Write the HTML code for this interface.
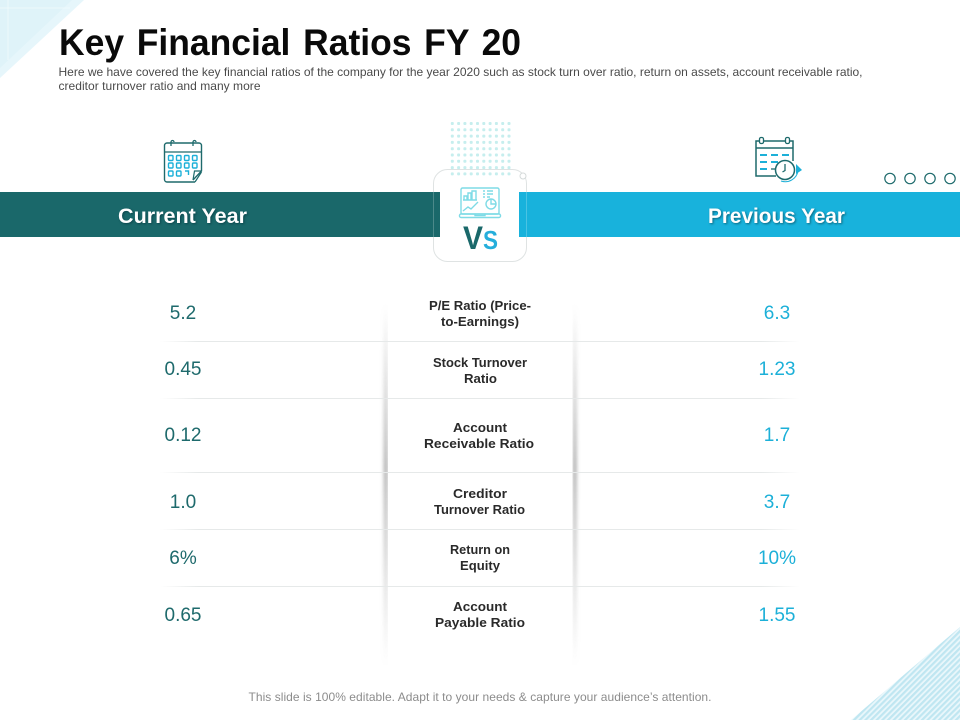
<!DOCTYPE html>
<html lang="en">
<head>
<meta charset="utf-8">
<title>Key Financial Ratios FY 20</title>
<style>
html,body{margin:0;padding:0;background:#fff;width:960px;height:720px;overflow:hidden}
svg{display:block}
text{font-family:"Liberation Sans",sans-serif}
.lbl{font-size:12.5px;font-weight:700;fill:#2a2a2a;text-anchor:start}
.v{font-size:19px;text-anchor:middle}
.cur{fill:#1e6a6c}
.prev{fill:#1cb0d8}
.hd{font-size:21px;font-weight:700;fill:#fff;filter:drop-shadow(1px 1px 1px rgba(0,40,50,.55))}
</style>
</head>
<body>
<svg width="960" height="720" viewBox="0 0 960 720" xmlns="http://www.w3.org/2000/svg">
<defs>
<pattern id="hatch" width="4" height="4" patternUnits="userSpaceOnUse" patternTransform="rotate(-45)">
<rect width="4" height="4" fill="#eaf7fb"/>
<rect width="4" height="2.2" fill="#bfe6f1"/>
</pattern>
<linearGradient id="sh" x1="0" y1="0" x2="0" y2="1">
<stop offset="0" stop-color="#999" stop-opacity="0"/>
<stop offset=".45" stop-color="#888" stop-opacity=".6"/>
<stop offset="1" stop-color="#999" stop-opacity="0"/>
</linearGradient>
<linearGradient id="ru" x1="0" y1="0" x2="1" y2="0">
<stop offset="0" stop-color="#e6e9e9" stop-opacity="0"/>
<stop offset=".06" stop-color="#e6e9e9"/>
<stop offset=".94" stop-color="#e6e9e9"/>
<stop offset="1" stop-color="#e6e9e9" stop-opacity="0"/>
</linearGradient>
<filter id="bl" x="-300%" y="-5%" width="700%" height="110%"><feGaussianBlur stdDeviation="1.8"/></filter>
</defs>

<g>
<polygon points="0,0 84,0 0,78" fill="#e6f6fb"/>
<polygon points="0,0 72,0 0,68" fill="#dff3f9"/>
<path d="M8,0V60M0,8H70" stroke="#eef9fc" stroke-width="1"/>
</g>
<polygon points="960,627 960,720 851,720" fill="url(#hatch)"/>

<text x="59" y="55" font-size="37" font-weight="700" fill="#0a0a0a" textLength="462" lengthAdjust="spacingAndGlyphs" style="word-spacing:3px">Key Financial Ratios FY 20</text>
<g font-size="12" fill="#4a4a4a">
<text x="58.5" y="76" textLength="804" lengthAdjust="spacing">Here we have covered the key financial ratios of the company for the year 2020 such as stock turn over ratio, return on assets, account receivable ratio,</text>
<text x="58.5" y="90" textLength="202" lengthAdjust="spacing">creditor turnover ratio and many more</text>
</g>

<g>
<rect x="433.5" y="169.5" width="93" height="92" rx="14" fill="#fff" stroke="#dfe3e3" stroke-width="1"/>
<circle cx="523" cy="176" r="3" fill="#fff" stroke="#d5dada"/>
</g>

<g fill="#c6eeee">
<g id="dots"></g>
</g>

<rect x="0" y="192" width="440" height="45" fill="#1a686a"/>
<rect x="519" y="192" width="441" height="45" fill="#18b2dc"/>
<path d="M433.5,192V237M526.5,192V237" stroke="#fff" stroke-opacity=".22"/>
<text class="hd" x="118" y="223" textLength="129" lengthAdjust="spacingAndGlyphs">Current Year</text>
<text class="hd" x="708" y="223" textLength="137" lengthAdjust="spacingAndGlyphs">Previous Year</text>

<g fill="none" stroke="#7fdbe6" stroke-width="1.4">
<rect x="461" y="188" width="38" height="26" rx="1.5"/>
<rect x="459.5" y="214" width="41" height="3.5" rx="1.5"/>
<path d="M475,214v1.5h10v-1.5"/>
<path d="M464,200v-4h3v4M468,200v-7h3v7M472,200v-9h4v9M463,200h14"/>
<path d="M463,211l5,-4l3,2l7,-7"/>
<circle cx="491" cy="204" r="5"/>
<path d="M491,199v5h5"/>
<path d="M483,191h2M487,191h6M483,194h2M487,194h6M483,197h2M487,197h3"/>
</g>
<text x="463" y="249" font-size="32" font-weight="700" fill="#1a686a" textLength="20" lengthAdjust="spacingAndGlyphs">V</text>
<text x="483" y="249" font-size="26" font-weight="700" fill="#25aedb" textLength="15" lengthAdjust="spacingAndGlyphs">S</text>

<g fill="none">
<path d="M195,182H167a2.5,2.5 0 0 1 -2.5,-2.5V145.500a2.500,2.500 0 0 1 2.500,-2.500H199a2.500,2.500 0 0 1 2.500,2.500V171L193,180" stroke="#1e6a6c" stroke-width="1.400"/>
<path d="M164.500,152H201.500" stroke="#1e6a6c" stroke-width="1.200"/>
<path d="M171,146v-4a1.500,1.500 0 0 1 3,0M193,146v-4a1.500,1.500 0 0 1 3,0" stroke="#1e6a6c" stroke-width="1.300"/>
<path d="M201.500,171H194.500L193,180M195,182L201.500,172" stroke="#1e6a6c" stroke-width="1.200"/>
<g stroke="#1cb0d8" stroke-width="1.400">
<rect x="168.500" y="155.500" width="4.500" height="5" rx="1"/><rect x="176.500" y="155.500" width="4.500" height="5" rx="1"/><rect x="184.500" y="155.500" width="4.500" height="5" rx="1"/><rect x="192.500" y="155.500" width="4.500" height="5" rx="1"/>
<rect x="168.500" y="163" width="4.500" height="5" rx="1"/><rect x="176.500" y="163" width="4.500" height="5" rx="1"/><rect x="184.500" y="163" width="4.500" height="5" rx="1"/><rect x="192.500" y="163" width="4.500" height="5" rx="1"/>
<rect x="168.500" y="171" width="4.500" height="5" rx="1"/><rect x="176.500" y="171" width="4.500" height="5" rx="1"/><path d="M185,171h3.500v4"/>
</g>
</g>

<g fill="none">
<path d="M776,176H756V141H793V161" stroke="#1e6a6c" stroke-width="1.500"/>
<path d="M756,148H793" stroke="#1e6a6c" stroke-width="1.500"/>
<rect x="759.500" y="137.500" width="4" height="6" rx="1.500" fill="#fff" stroke="#1e6a6c" stroke-width="1.300"/>
<rect x="785.500" y="137.500" width="4" height="6" rx="1.500" fill="#fff" stroke="#1e6a6c" stroke-width="1.300"/>
<path d="M760,155h7M771,155h7M782,155h7M760,162h7M771,162h7M782,162h4M760,169h7" stroke="#1cb0d8" stroke-width="2"/>
<path d="M771,169h6" stroke="#1e6a6c" stroke-width="1.300"/>
<circle cx="785" cy="170" r="9.500" fill="#fff" stroke="#1e6a6c" stroke-width="1.500"/>
<path d="M785,164v6.500l-2.500,1.500" stroke="#1e6a6c" stroke-width="1.300"/>
<path d="M798,171a13,13 0 0 1 -17,10" stroke="#1cb0d8" stroke-width="1"/>
<polygon points="796,164 802,170 796,174" fill="#1cb0d8"/>
</g>

<g fill="#fff" stroke="#1e6a6c" stroke-width="1.200">
<circle cx="890" cy="178.500" r="5.200"/>
<circle cx="910" cy="178.500" r="5.200"/>
<circle cx="930" cy="178.500" r="5.200"/>
<circle cx="950" cy="178.500" r="5.200"/>
</g>

<g>
<rect x="383.500" y="305" width="4.500" height="360" fill="url(#sh)" filter="url(#bl)"/>
<rect x="572.500" y="305" width="4.500" height="360" fill="url(#sh)" filter="url(#bl)"/>
<rect x="388" y="295" width="184.500" height="375" fill="#fff"/>
</g>

<g>
<rect x="160" y="341" width="640" height="1" fill="url(#ru)"/>
<rect x="160" y="398" width="640" height="1" fill="url(#ru)"/>
<rect x="160" y="472" width="640" height="1" fill="url(#ru)"/>
<rect x="160" y="529" width="640" height="1" fill="url(#ru)"/>
<rect x="160" y="586" width="640" height="1" fill="url(#ru)"/>
</g>

<g>
<text class="v cur" x="183" y="319">5.2</text>
<text class="lbl"><tspan x="429" y="310" textLength="102" lengthAdjust="spacingAndGlyphs">P/E Ratio (Price-</tspan><tspan x="441" y="326" textLength="78" lengthAdjust="spacingAndGlyphs">to-Earnings)</tspan></text>
<text class="v prev" x="777" y="319">6.3</text>
</g>
<g>
<text class="v cur" x="183" y="375">0.45</text>
<text class="lbl"><tspan x="433" y="367" textLength="94" lengthAdjust="spacingAndGlyphs">Stock Turnover</tspan><tspan x="464" y="383" textLength="33" lengthAdjust="spacingAndGlyphs">Ratio</tspan></text>
<text class="v prev" x="777" y="375">1.23</text>
</g>
<g>
<text class="v cur" x="183" y="441">0.12</text>
<text class="lbl"><tspan x="453" y="432" textLength="54" lengthAdjust="spacingAndGlyphs">Account</tspan><tspan x="424" y="448" textLength="110" lengthAdjust="spacingAndGlyphs">Receivable Ratio</tspan></text>
<text class="v prev" x="777" y="441">1.7</text>
</g>
<g>
<text class="v cur" x="183" y="508">1.0</text>
<text class="lbl"><tspan x="453" y="498" textLength="54" lengthAdjust="spacingAndGlyphs">Creditor</tspan><tspan x="434" y="514" textLength="91" lengthAdjust="spacingAndGlyphs">Turnover Ratio</tspan></text>
<text class="v prev" x="777" y="508">3.7</text>
</g>
<g>
<text class="v cur" x="183" y="564">6%</text>
<text class="lbl"><tspan x="450" y="554" textLength="60" lengthAdjust="spacingAndGlyphs">Return on</tspan><tspan x="460" y="570" textLength="40" lengthAdjust="spacingAndGlyphs">Equity</tspan></text>
<text class="v prev" x="777" y="564">10%</text>
</g>
<g>
<text class="v cur" x="183" y="621">0.65</text>
<text class="lbl"><tspan x="453" y="611" textLength="54" lengthAdjust="spacingAndGlyphs">Account</tspan><tspan x="435" y="627" textLength="90" lengthAdjust="spacingAndGlyphs">Payable Ratio</tspan></text>
<text class="v prev" x="777" y="621">1.55</text>
</g>

<text x="248.500" y="701" font-size="12" fill="#8c8c8c" textLength="463" lengthAdjust="spacing">This slide is 100% editable. Adapt it to your needs &amp; capture your audience’s attention.</text>
</svg>
<script>
var dotColumns = 10;
var dotRows = 9;
var dotLayer = document.getElementById('dots');
for (var r = 0; r < dotRows; r++) {
  for (var c = 0; c < dotColumns; c++) {
    var dot = document.createElementNS('http://www.w3.org/2000/svg', 'rect');
    dot.setAttribute('x', 450.8 + c * 6.3);
    dot.setAttribute('y', 122 + r * 6.3);
    dot.setAttribute('width', 3);
    dot.setAttribute('height', 3);
    dot.setAttribute('rx', 1);
    
    
    dotLayer.appendChild(dot);
  }
}
</script>
</body>
</html>
